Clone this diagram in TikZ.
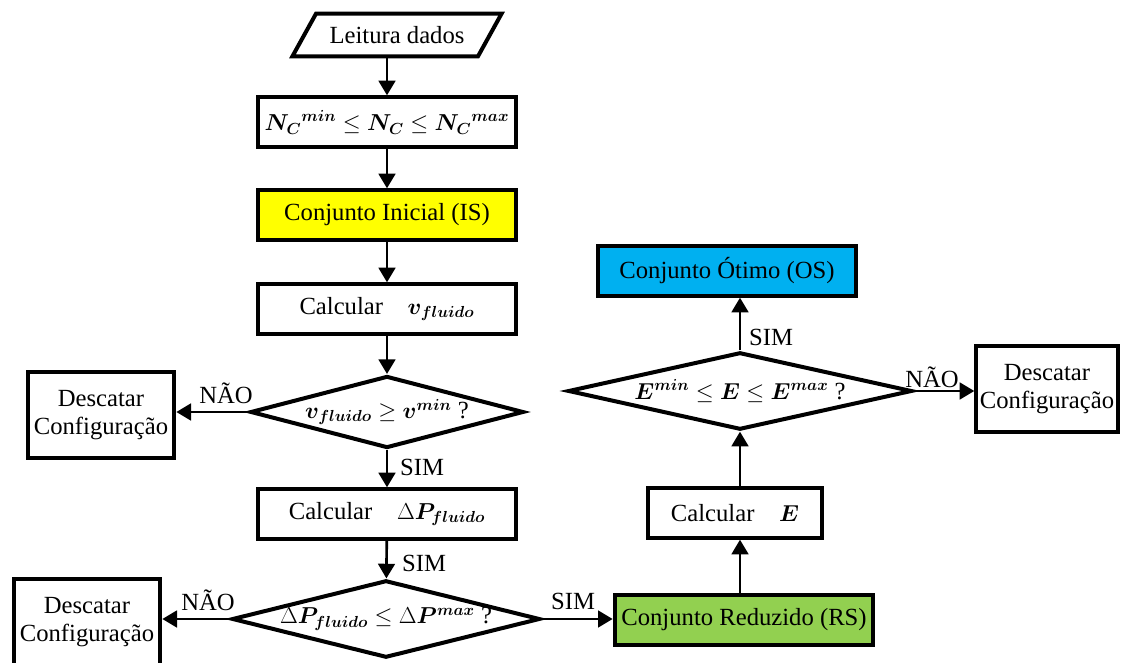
\documentclass[tikz,border=0pt]{standalone}
\usepackage{amsmath}
\usepackage{fontspec}
\setmainfont{Liberation Serif}
\usetikzlibrary{positioning,arrows.meta,shapes.geometric}
\definecolor{isyellow}{HTML}{FFFF00}
\definecolor{rsgreen}{HTML}{92D050}
\definecolor{osblue}{HTML}{00B0F0}
\newcommand{\zerow}[1]{\makebox[0pt]{#1}}

\begin{document}
\begin{tikzpicture}[x=0.75pt,y=-0.75pt,
    every node/.style={font=\fontsize{18.5}{21}\selectfont},
    box/.style={draw,line width=3pt,minimum width=194pt,minimum height=37pt,inner sep=2pt},
    discard/.style={draw,line width=3pt,align=center,minimum width=110pt,minimum height=64pt,inner sep=2pt},
    decision/.style={draw,line width=3pt,diamond,aspect=1,inner sep=0pt},
    readbox/.style={draw,line width=3pt,trapezium,trapezium left angle=48,trapezium right angle=132,
      trapezium stretches=true,minimum width=157pt,minimum height=32pt,inner sep=2pt},
    arr/.style={line width=2pt,-{Triangle[length=11pt,width=12.5pt]}}]
      \useasboundingbox (0,0) rectangle (1121,663);
      \draw (397,35) node[readbox] (read) {Leitura dados};
      \draw (387,122) node[box] (limits) {${\boldsymbol{N_C}}^{\boldsymbol{min}} \leq \boldsymbol{N_C} \leq {\boldsymbol{N_C}}^{\boldsymbol{max}}$};
      \draw (387,215) node[box,fill=isyellow] (initset) {Conjunto Inicial (IS)};
      \draw (387,309) node[box] (calcv) {Calcular\quad $\boldsymbol{v_{fluido}}$};
      \draw (387,412) node[decision,minimum width=205pt,minimum height=54pt] (chkv) {\zerow{$\boldsymbol{v_{fluido}} \geq \boldsymbol{v^{min}}$ ?}};
      \draw (101,415) node[discard] (discv) {Descatar\\Configuração};
      \draw (387,514) node[box] (calcp) {Calcular\quad $\Delta\boldsymbol{P_{fluido}}$};
      \draw (386,619) node[decision,minimum width=231pt,minimum height=58pt] (chkp) {\zerow{$\Delta\boldsymbol{P_{fluido}} \leq \Delta\boldsymbol{P^{max}}$ ?}};
      \draw (87,622) node[discard] (discp) {Descatar\\Configuração};
      \draw (744,620) node[box,fill=rsgreen] (redset) {Conjunto Reduzido (RS)};
      \draw (735,513) node[box,minimum width=130pt] (calcE) {Calcular\quad $\boldsymbol{E}$};
      \draw (740,391) node[decision,minimum width=258pt,minimum height=58pt] (chkE) {\zerow{$\boldsymbol{E^{min}} \leq \boldsymbol{E} \leq \boldsymbol{E^{max}}$ ?}};
      \draw (727,271) node[box,fill=osblue] (optset) {Conjunto Ótimo (OS)};
      \draw (1047,389) node[discard,minimum width=106pt] (discE) {Descatar\\Configuração};
      \draw (226,393) node (nao1) {NÃO};
      \draw (422,467) node (sim1) {SIM};
      \draw (424,563) node (sim2) {SIM};
      \draw (208,600) node (nao2) {NÃO};
      \draw (573,601) node (sim3) {SIM};
      \draw (771,337) node (sim4) {SIM};
      \draw (932,377) node (nao3) {NÃO};
      \draw[arr] (read.south -| limits) to (limits);
      \draw[arr] (limits) to (initset);
      \draw[arr] (initset) to (calcv);
      \draw[arr] (calcv) to (chkv);
      \draw[arr] (chkv.west) to (chkv.west -| discv.east);
      \draw[arr] (chkv) to (calcp);
      \draw[arr] (calcp) to (chkp);
      \draw[arr] (chkp.west) to (chkp.west -| discp.east);
      \draw[arr] (chkp.east) to (chkp.east -| redset.west);
      \draw[arr] (redset.north -| chkE) to (calcE.south -| chkE);
      \draw[arr] (calcE.north -| chkE) to (chkE.south);
      \draw[arr] (chkE.north) to (chkE.north |- optset.south);
      \draw[arr] (chkE.east) to (chkE.east -| discE.west);
      \end{tikzpicture}
\end{document}
